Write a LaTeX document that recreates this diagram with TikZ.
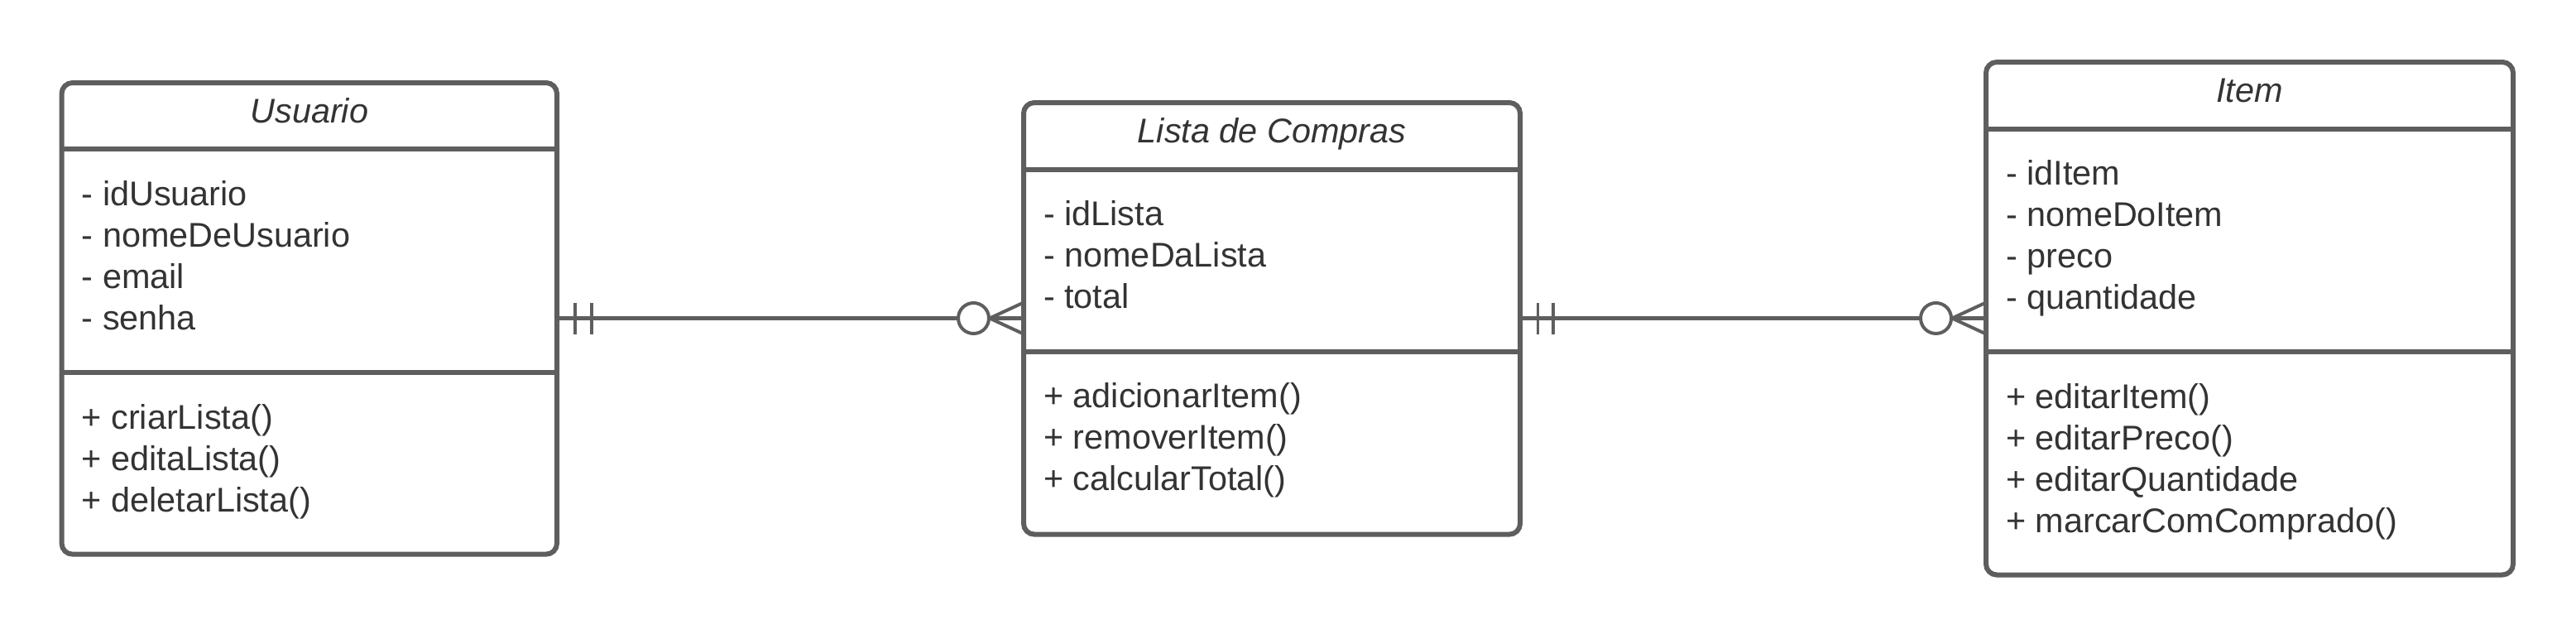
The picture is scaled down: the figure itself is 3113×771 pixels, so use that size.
\documentclass[tikz,border=0pt]{standalone}
\usepackage{fontspec}
\setmainfont{Liberation Sans}
\usetikzlibrary{calc}
\definecolor{strokegray}{HTML}{5E5E5E}
\definecolor{txtgray}{HTML}{333333}
\tikzset{
  classbox/.style={draw=strokegray, line width=6pt, rounded corners=13pt, fill=white,
    rectangle, inner sep=0pt, outer sep=0pt, anchor=north west},
  divider/.style={draw=strokegray, line width=6pt},
  title/.style={anchor=base, inner sep=0pt, text=txtgray, font=\fontsize{41.4}{50}\selectfont\itshape},
  entry/.style={anchor=base west, inner sep=0pt, text=txtgray, font=\fontsize{41.4}{50}\selectfont},
  conn/.style={draw=strokegray, line width=4.5pt},
  tickmark/.style={draw=strokegray, line width=3.5pt},
  zerocirc/.style={draw=strokegray, line width=4pt, fill=white, circle, minimum size=37pt, inner sep=0pt, outer sep=0pt},
  footline/.style={draw=strokegray, line width=4pt}
}
\begin{document}
\begin{tikzpicture}[x=1pt, y=-1pt]
\useasboundingbox (0,0) rectangle (3113,771);
\fill[white] (0,0) rectangle (3113,771);

% ---------- Usuario ----------
\node[classbox, minimum width=598.4pt, minimum height=569.6pt] (usuario) at (74.6,100) {};
\draw[divider] ($(usuario.north west)+(0,79.5)$) -- ($(usuario.north east)+(0,79.5)$);
\draw[divider] ($(usuario.north west)+(0,350)$) -- ($(usuario.north east)+(0,350)$);
\node[title] (usuarioT) at ($(usuario.north)+(0,48)$) {Usuario};
\node[entry] (u1) at ($(usuario.north west)+(24,148)$) {- idUsuario};
\node[entry] (u2) at ($(usuario.north west)+(24,198)$) {- nomeDeUsuario};
\node[entry] (u3) at ($(usuario.north west)+(24,248)$) {- email};
\node[entry] (u4) at ($(usuario.north west)+(24,298)$) {- senha};
\node[entry] (u5) at ($(usuario.north west)+(24,418.5)$) {+ criarLista()};
\node[entry] (u6) at ($(usuario.north west)+(24,468.5)$) {+ editaLista()};
\node[entry] (u7) at ($(usuario.north west)+(24,518.5)$) {+ deletarLista()};

% ---------- Lista de Compras ----------
\node[classbox, minimum width=600pt, minimum height=521.6pt] (lista) at (1237,124) {};
\draw[divider] ($(lista.north west)+(0,80.5)$) -- ($(lista.north east)+(0,80.5)$);
\draw[divider] ($(lista.north west)+(0,300.5)$) -- ($(lista.north east)+(0,300.5)$);
\node[title] (listaT) at ($(lista.north)+(0,48)$) {Lista de Compras};
\node[entry] (l1) at ($(lista.north west)+(24,148.5)$) {- idLista};
\node[entry] (l2) at ($(lista.north west)+(24,198.5)$) {- nomeDaLista};
\node[entry] (l3) at ($(lista.north west)+(24,248.5)$) {- total};
\node[entry] (l4) at ($(lista.north west)+(24,368.5)$) {+ adicionarItem()};
\node[entry] (l5) at ($(lista.north west)+(24,418.5)$) {+ removerItem()};
\node[entry] (l6) at ($(lista.north west)+(24,468.5)$) {+ calcularTotal()};

% ---------- Item ----------
\node[classbox, minimum width=637pt, minimum height=619.5pt] (item) at (2400,75) {};
\draw[divider] ($(item.north west)+(0,80.5)$) -- ($(item.north east)+(0,80.5)$);
\draw[divider] ($(item.north west)+(0,350)$) -- ($(item.north east)+(0,350)$);
\node[title] (itemT) at ($(item.north)+(0,48)$) {Item};
\node[entry] (i1) at ($(item.north west)+(24,148.5)$) {- idItem};
\node[entry] (i2) at ($(item.north west)+(24,198.5)$) {- nomeDoItem};
\node[entry] (i3) at ($(item.north west)+(24,248.5)$) {- preco};
\node[entry] (i4) at ($(item.north west)+(24,298.5)$) {- quantidade};
\node[entry] (i5) at ($(item.north west)+(24,418)$) {+ editarItem()};
\node[entry] (i6) at ($(item.north west)+(24,468)$) {+ editarPreco()};
\node[entry] (i7) at ($(item.north west)+(24,518)$) {+ editarQuantidade};
\node[entry] (i8) at ($(item.north west)+(24,568)$) {+ marcarComComprado()};

% ---------- connectors ----------
\coordinate (ylev) at (0,384.5);

% Usuario -- Lista
\coordinate (a1) at (usuario.east |- ylev);
\coordinate (b1) at (lista.west |- ylev);
\draw[conn] (a1) -- (b1);
\draw[tickmark] ($(a1)+(22,-19)$) -- ($(a1)+(22,19)$);
\draw[tickmark] ($(a1)+(42,-19)$) -- ($(a1)+(42,19)$);
\draw[footline] ($(b1)+(0,-19)$) -- ($(b1)+(-41,0)$) -- ($(b1)+(0,19)$);
\node[zerocirc] (z1) at ($(b1)+(-60.5,0)$) {};

% Lista -- Item
\coordinate (a2) at (lista.east |- ylev);
\coordinate (b2) at (item.west |- ylev);
\draw[conn] (a2) -- (b2);
\draw[tickmark] ($(a2)+(21.5,-19)$) -- ($(a2)+(21.5,19)$);
\draw[tickmark] ($(a2)+(40,-19)$) -- ($(a2)+(40,19)$);
\draw[footline] ($(b2)+(0,-19)$) -- ($(b2)+(-41,0)$) -- ($(b2)+(0,19)$);
\node[zerocirc] (z2) at ($(b2)+(-60.5,0)$) {};
\end{tikzpicture}
\end{document}
